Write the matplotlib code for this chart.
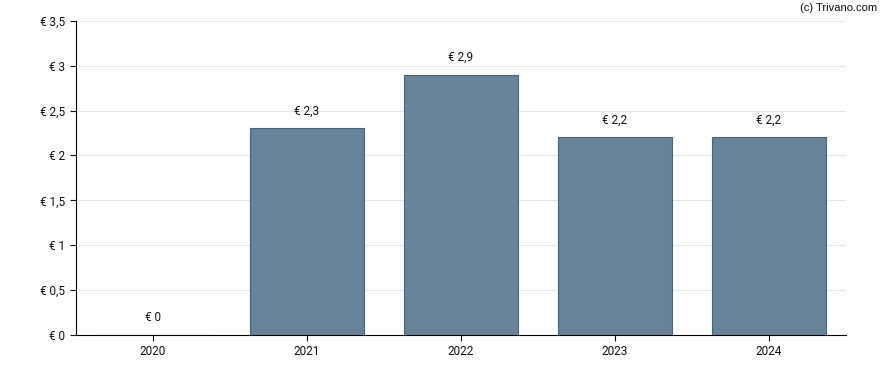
import matplotlib
matplotlib.use("Agg")
import matplotlib.pyplot as plt
from matplotlib.ticker import FuncFormatter

years = ["2020", "2021", "2022", "2023", "2024"]
values = [0, 2.3, 2.9, 2.2, 2.2]
labels = ["€ 0", "€ 2,3", "€ 2,9", "€ 2,2", "€ 2,2"]
yticks = [0, 0.5, 1, 1.5, 2, 2.5, 3, 3.5]

plt.rcParams['font.family'] = ['Roboto', 'DejaVu Sans']

fig = plt.figure(figsize=(8.88, 3.70), dpi=100)
ax = fig.add_axes([75.5/888, 35/370, (845.7-75.5)/888, (335-20.7)/370])

x = list(range(len(years)))
ax.bar(x, values, width=0.74, color="#67839a", edgecolor="#4a6178", linewidth=0.8, zorder=3)

for xi, v, lab in zip(x, values, labels):
    ax.annotate(lab, (xi, v), xytext=(0, 12.5), textcoords="offset points",
                ha="center", va="center", fontsize=8.5, color="#111111")

ax.set_xlim(-0.5, len(years) - 0.5)
ax.set_ylim(0, 3.5)
ax.set_yticks(yticks)
ax.yaxis.set_major_formatter(FuncFormatter(lambda v, p: "€ " + (f"{v:g}").replace(".", ",")))
ax.set_xticks(x)
ax.set_xticklabels(years)
ax.tick_params(axis="both", labelsize=8.5, colors="#111111", length=4, width=0.8)
ax.grid(axis="y", color="#e6e6e6", linewidth=0.8, zorder=0)
ax.set_axisbelow(True)
for s in ["top", "right"]:
    ax.spines[s].set_visible(False)
for s in ["left", "bottom"]:
    ax.spines[s].set_color("#000000")
    ax.spines[s].set_linewidth(0.8)

fig.text(877/888, 1 - 8/370, "(c) Trivano.com", ha="right", va="center", fontsize=8,
         family=["Liberation Sans", "DejaVu Sans"], color="#111111")

fig.savefig("out.png", dpi=100)
